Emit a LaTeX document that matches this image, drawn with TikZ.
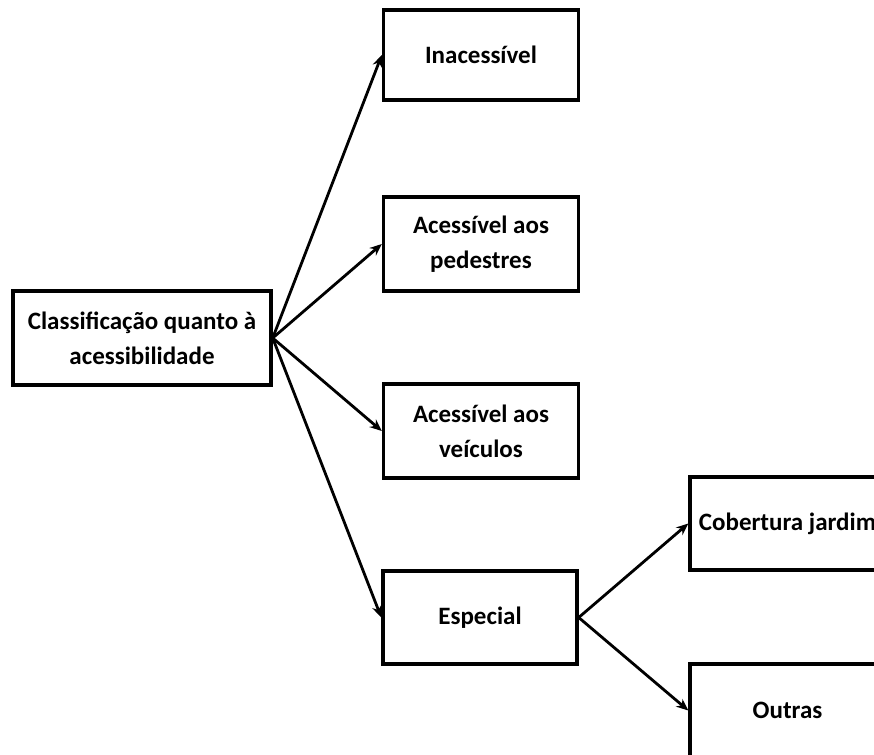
\documentclass[tikz,border=0pt]{standalone}
\usepackage{fontspec}
\setmainfont{Carlito}
\usetikzlibrary{arrows.meta}
\begin{document}
\begin{tikzpicture}[x=1pt,y=-1pt,
  box/.style={draw=black,line width=3.4pt,fill=white,align=center,inner sep=0pt,
    font=\bfseries\fontsize{25}{35}\selectfont},
  conn/.style={line width=2.8pt,-{Stealth[length=12pt,width=10pt]}}]
\useasboundingbox (0,0) rectangle (874,754);
\clip (0,0) rectangle (874,754);
\node[box,minimum width=258pt,minimum height=94pt] (cls) at (142,338) {Classificação quanto à\\acessibilidade};
\node[box,minimum width=195pt,minimum height=90pt] (ina) at (481,55) {Inacessível};
\node[box,minimum width=195pt,minimum height=94pt] (ped) at (481,244) {Acessível aos\\pedestres};
\node[box,minimum width=195pt,minimum height=94pt] (vei) at (481,431) {Acessível aos\\veículos};
\node[box,minimum width=194pt,minimum height=93pt] (esp) at (480,617.5) {Especial};
\node[box,minimum width=195pt,minimum height=93pt] (cob) at (787.5,523.5) {Cobertura jardim};
\node[box,minimum width=195pt,minimum height=93pt] (out) at (787.5,710.5) {Outras};
\draw[conn] (cls.east) -- (ina.west);
\draw[conn] (cls.east) -- (ped.west);
\draw[conn] (cls.east) -- (vei.west);
\draw[conn] (cls.east) -- (esp.west);
\draw[conn] (esp.east) -- (cob.west);
\draw[conn] (esp.east) -- (out.west);
\end{tikzpicture}
\end{document}
